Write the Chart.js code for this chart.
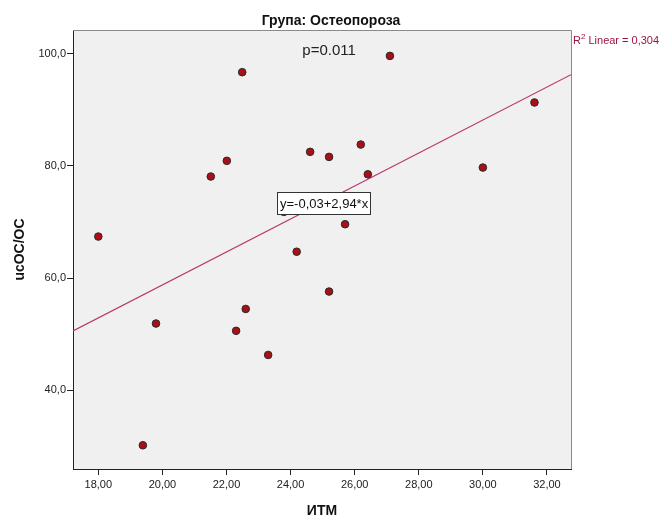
<!DOCTYPE html>
<html>
<head>
<meta charset="utf-8">
<script src="https://cdn.jsdelivr.net/npm/chart.js@4"></script>
<style>
  html, body { margin: 0; padding: 0; background: #fff; }
  #wrap { width: 662px; height: 517px; }
</style>
</head>
<body>
<div id="wrap"><canvas id="bmiChart" width="662" height="517"></canvas></div>
<script>
// data
const bmi = [18.00, 19.39, 19.80, 21.51, 22.01, 22.49, 22.30, 22.60, 23.30, 23.79,
             24.19, 24.61, 25.20, 25.20, 25.70, 26.19, 26.41, 27.10, 30.00, 31.61];
const ucoc = [67.4, 30.2, 51.9, 78.1, 80.9, 96.7, 50.6, 54.5, 46.3, 71.8,
              64.7, 82.5, 81.6, 57.6, 69.6, 83.8, 78.5, 99.6, 79.7, 91.3];
const xTicks = [18, 20, 22, 24, 26, 28, 30, 32];
const yTicks = [40, 60, 80, 100];
const xRange = [17.21, 32.75];
const yRange = [25.97, 104.22];
const fitIntercept = -0.03;
const fitSlope = 2.94;
const rSquared = '0,304';
const pText = 'p=0.011';

const FONT = '"Liberation Sans", Arial, sans-serif';
const fmt = (v, d) => v.toFixed(d).replace('.', ',');

const points = bmi.map((x, i) => ({ x: x, y: ucoc[i] }));
const fitLine = xRange.map(x => ({ x: x, y: fitIntercept + fitSlope * x }));

// plot background, frame and the text annotations
const spssDecor = {
    id: 'spssDecor',
    beforeDraw(chart) {
        const { ctx, chartArea: a } = chart;
        ctx.save();
        ctx.fillStyle = '#fff';
        ctx.fillRect(0, 0, chart.width, chart.height);
        ctx.fillStyle = '#f0f0f0';
        ctx.fillRect(a.left, a.top, a.right - a.left, a.bottom - a.top);
        ctx.restore();
    },
    afterDatasetsDraw(chart) {
        const { ctx, chartArea: a, scales: { x, y } } = chart;
        ctx.save();
        // top and right frame lines
        ctx.strokeStyle = '#8a8a8a';
        ctx.lineWidth = 1;
        ctx.beginPath();
        ctx.moveTo(a.left, a.top + 0.5);
        ctx.lineTo(a.right + 0.5, a.top + 0.5);
        ctx.lineTo(a.right + 0.5, a.bottom);
        ctx.stroke();

        // p value
        ctx.fillStyle = '#222';
        ctx.font = '15px ' + FONT;
        ctx.textAlign = 'center';
        ctx.textBaseline = 'middle';
        ctx.fillText(pText, x.getPixelForValue(25.2), y.getPixelForValue(100.5));

        // equation box
        const eq = 'y=' + fmt(fitIntercept, 2) + '+' + fmt(fitSlope, 2) + '*x';
        ctx.font = '13px ' + FONT;
        const bx = Math.round(x.getPixelForValue(23.57)) + 0.5;
        const by = Math.round(y.getPixelForValue(75.43)) + 0.5;
        const bw = Math.round(ctx.measureText(eq).width) + 5;
        const bh = 22;
        ctx.fillStyle = '#fff';
        ctx.fillRect(bx, by, bw, bh);
        ctx.strokeStyle = '#333';
        ctx.strokeRect(bx, by, bw, bh);
        ctx.fillStyle = '#111';
        ctx.textAlign = 'left';
        ctx.fillText(eq, bx + 2.5, by + bh / 2 + 0.5);

        // R2 label at the right of the plot
        const rx = a.right + 2;
        const ry = a.top + 11;
        ctx.fillStyle = '#9c1446';
        ctx.font = '11px ' + FONT;
        ctx.fillText('R', rx, ry);
        const rw = ctx.measureText('R').width;
        ctx.font = '8px ' + FONT;
        ctx.fillText('2', rx + rw, ry - 4);
        const sw = ctx.measureText('2').width;
        ctx.font = '11px ' + FONT;
        ctx.fillText(' Linear = ' + rSquared, rx + rw + sw, ry);
        ctx.restore();
    }
};

const ctx = document.getElementById('bmiChart').getContext('2d');
new Chart(ctx, {
    type: 'scatter',
    data: {
        datasets: [{
            label: 'ucOC/OC',
            data: points,
            backgroundColor: '#a80f16',
            borderColor: '#2a2a2a',
            borderWidth: 1,
            pointRadius: 3.8,
            order: 1
        }, {
            type: 'line',
            label: 'Linear',
            data: fitLine,
            borderColor: '#b8336a',
            borderWidth: 1.2,
            pointRadius: 0,
            fill: false,
            order: 2
        }]
    },
    options: {
        responsive: false,
        animation: false,
        events: [],
        layout: { padding: 0 },
        plugins: {
            legend: { display: false },
            tooltip: { enabled: false },
            title: {
                display: true,
                text: 'Група: Остеопороза',
                color: '#111',
                font: { family: FONT, size: 14, weight: 'bold', lineHeight: 1.2 },
                padding: { top: 12.6, bottom: 0.6 }
            }
        },
        scales: {
            x: {
                type: 'linear',
                min: xRange[0],
                max: xRange[1],
                afterBuildTicks: s => { s.ticks = xTicks.map(v => ({ value: v })); },
                afterFit: s => { s.height = 48; },
                ticks: {
                    color: '#222',
                    padding: 3,
                    font: { family: FONT, size: 11 },
                    callback: v => fmt(v, 2)
                },
                grid: { drawOnChartArea: false, tickLength: 6, tickColor: '#222' },
                border: { color: '#222', width: 1 },
                title: {
                    display: true,
                    text: 'ИТМ',
                    color: '#111',
                    font: { family: FONT, size: 14, weight: 'bold', lineHeight: 1 },
                    padding: { top: 0, bottom: -1 }
                }
            },
            y: {
                type: 'linear',
                min: yRange[0],
                max: yRange[1],
                afterBuildTicks: s => { s.ticks = yTicks.map(v => ({ value: v })); },
                afterFit: s => { s.width = 73; },
                ticks: {
                    color: '#222',
                    padding: 1,
                    font: { family: FONT, size: 11 },
                    callback: v => fmt(v, 1)
                },
                grid: { drawOnChartArea: false, tickLength: 6, tickColor: '#222' },
                border: { color: '#222', width: 1 },
                title: {
                    display: true,
                    text: 'ucOC/OC',
                    color: '#111',
                    font: { family: FONT, size: 14, weight: 'bold', lineHeight: 1 },
                    padding: { top: 13, bottom: 0 }
                }
            },
            // empty right axis, only reserves the space where the R2 label sits
            yRight: {
                type: 'linear',
                position: 'right',
                min: yRange[0],
                max: yRange[1],
                afterFit: s => { s.width = 91; },
                ticks: { display: false },
                grid: { display: false },
                border: { display: false }
            }
        }
    },
    plugins: [spssDecor]
});
</script>
</body>
</html>
